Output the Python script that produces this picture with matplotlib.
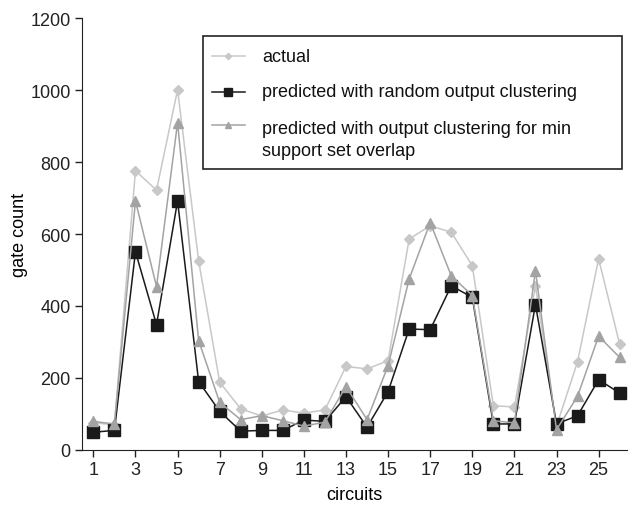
import matplotlib.pyplot as plt
from matplotlib.patches import Rectangle

plt.rcParams['font.family'] = ['Liberation Sans', 'DejaVu Sans']

circuits = list(range(1, 27))
actual = [75, 70, 776, 722, 1001, 526, 188, 114, 94, 111, 102, 111, 232,
          225, 248, 586, 623, 605, 512, 123, 119, 456, 66, 245, 531, 294]
random_clust = [49, 54, 551, 348, 692, 190, 107, 52, 54, 54, 83, 79, 148,
                63, 162, 336, 334, 456, 424, 72, 72, 404, 72, 95, 195, 158]
min_overlap = [79, 72, 692, 454, 910, 304, 132, 84, 95, 81, 66, 77, 176,
               84, 234, 475, 632, 484, 429, 81, 75, 498, 56, 149, 316, 257]
xticks = list(range(1, 26, 2))
yticks = [0, 200, 400, 600, 800, 1000, 1200]

# series styles: (values, colour, marker, size, legend marker size, legend lines)
series = [
    (actual, "#c8c8c8", "D", 5, 3.2, ["actual"]),
    (random_clust, "#1a1a1a", "s", 8, 5.5,
     ["predicted with random output clustering"]),
    (min_overlap, "#a3a3a3", "^", 7, 4.5,
     ["predicted with output clustering for min", "support set overlap"]),
]

fig = plt.figure(figsize=(6.34, 5.06), dpi=100)
ax = fig.add_axes([0.129, 0.109, 0.860, 0.853])

for vals, col, mk, ms, lms, lab in series:
    ax.plot(circuits, vals, color=col, linewidth=1.1, marker=mk, markersize=ms)

ax.set_xlim(0.45, 26.35)
ax.set_ylim(0, 1200)
ax.set_xticks(xticks)
ax.set_yticks(yticks)
ax.tick_params(labelsize=13, length=5, width=1, colors="#222222", pad=3)
ax.spines["top"].set_visible(False)
ax.spines["right"].set_visible(False)
ax.spines["left"].set_color("#222222")
ax.spines["bottom"].set_color("#222222")

ax.set_xlabel("circuits", fontsize=13, labelpad=6)
ax.set_ylabel("gate count", fontsize=13, labelpad=2)

# hand-made legend box (axes coords)
ax.add_patch(Rectangle((0.222, 0.650), 0.769, 0.308, transform=ax.transAxes,
                       fill=False, edgecolor="#222222", linewidth=1.2,
                       clip_on=False, zorder=5))
handle_y = [0.912, 0.830, 0.752]
text_y = [[0.912], [0.830], [0.7454, 0.6944]]
for (vals, col, mk, ms, lms, lab), hy, tys in zip(series, handle_y, text_y):
    ax.plot([0.2385, 0.299], [hy, hy], color=col, linewidth=1.1,
            transform=ax.transAxes, clip_on=False, zorder=6)
    ax.plot([0.2688], [hy], color=col, marker=mk, markersize=lms,
            transform=ax.transAxes, clip_on=False, zorder=6)
    for line, ty in zip(lab, tys):
        ax.text(0.3303, ty, line, fontsize=13, color="#111111",
                transform=ax.transAxes, va="center", ha="left", zorder=6)

fig.savefig("out.png", dpi=100)
